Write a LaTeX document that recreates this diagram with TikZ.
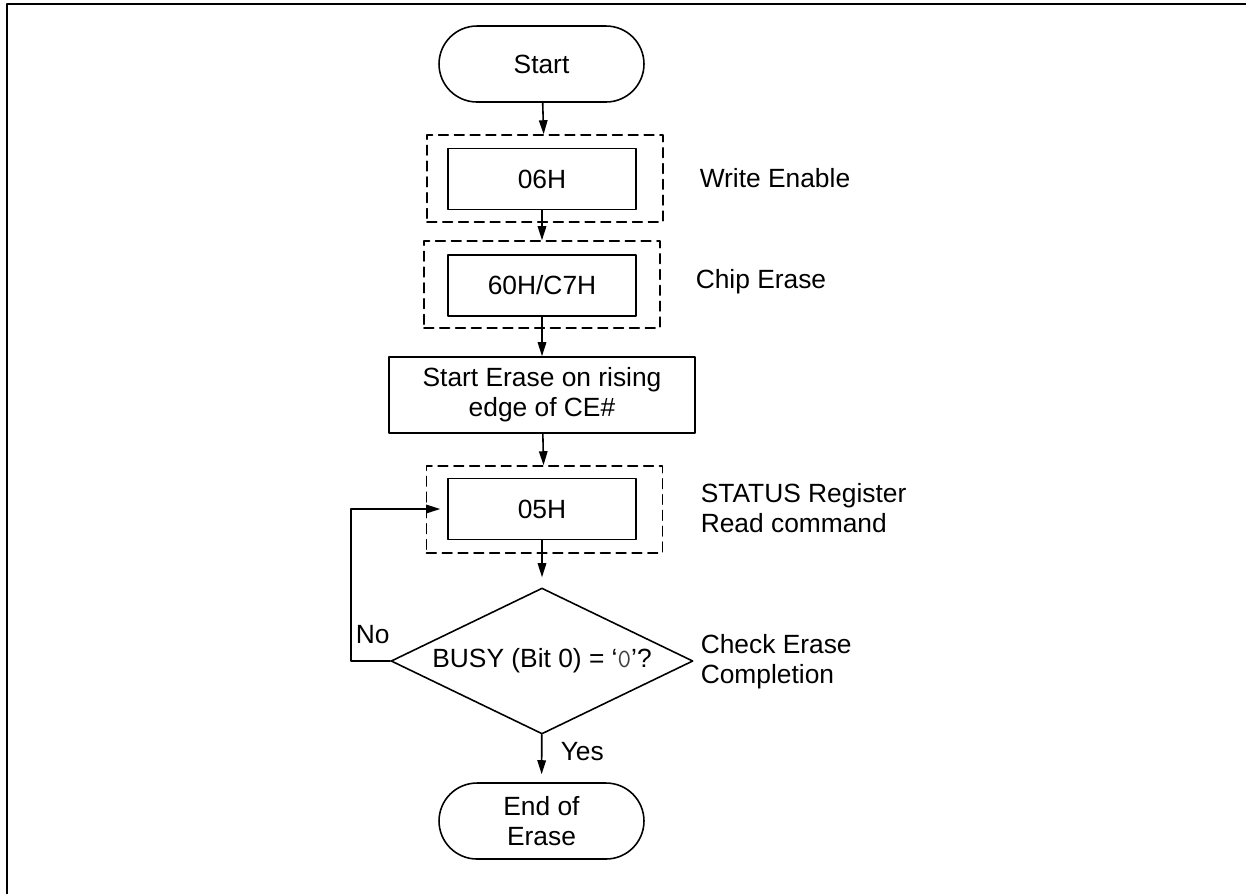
\documentclass[tikz,border=0pt]{standalone}
\usepackage{fontspec}
\setmainfont{Liberation Sans}
\usepackage{tikz}
\usetikzlibrary{arrows.meta}
\usetikzlibrary{shapes.geometric}

\begin{document}
\begin{tikzpicture}[line cap=round,line join=round,>={Triangle[length=0.28cm,width=0.17cm]},x=0.02cm,y=-0.02cm, line width=0.9pt,
                    font=\fontsize{15}{17}\selectfont,
                    term/.style={draw, rounded corners=0.76cm, minimum width=4.1cm, minimum height=1.52cm, align=center},
                    cmd/.style={draw, minimum width=3.76cm, minimum height=1.22cm, align=center},
                    grp/.style={draw, dash pattern=on 5.5pt off 3.5pt, minimum width=4.72cm, minimum height=1.74cm},
                    dec/.style={draw, diamond, aspect=2.07, minimum width=6.04cm, minimum height=2.92cm, inner sep=0pt},
                    note/.style={anchor=west, align=left, inner sep=0pt}]
                    \useasboundingbox (0,0) rectangle (1246,894);
                    \draw [line width=1.2pt, line cap=butt] (7,894) -- (7,4.3) -- (1246,4.3);

                    % dashed command groups
                    \node[grp] (g1) at (545,178.5) {};
                    \node[grp] (g2) at (542,284.5) {};
                    \node[grp] (g3) at (544.5,509.5) {};

                    \node[term] (start) at (541.5,64) {Start};
                    \node[cmd] (wren) at (542,179) {06H};
                    \node[cmd] (chip) at (542,285.5) {60H/C7H};
                    \node[cmd, minimum width=6.12cm, minimum height=1.52cm] (erase) at (542,395) {Start Erase on rising\\edge of CE\#};
                    \node[cmd] (rdsr) at (542,509) {05H};
                    \node[dec] (busy) at (542,661) {BUSY (Bit 0) = ‘{\color{black!75}\ttfamily 0}’?};
                    \node[term] (done) at (541.5,821) {End of\\Erase};

                    \draw [->] (start) -- (g1);
                    \draw [->] (wren) -- (g2);
                    \draw [->] (chip) -- (erase);
                    \draw [->] (erase) -- (g3);
                    \draw [->, shorten >=0.2cm] (rdsr) -- (busy);
                    \draw [->, shorten >=0.16cm] (busy) -- (done);

                    % retry loop
                    \coordinate (bend) at (351,661);
                    \draw [->, shorten >=0.14cm] (busy.west) -- (bend) |- (rdsr.west);

                    \node[note] (no) at (355,635) {No};
                    \node[note] (yes) at (560,752) {Yes};

                    \node[note] (wrlbl) at (699,178) {Write Enable};
                    \node[note] (chlbl) at (695,282) {Chip Erase};
                    \node[note] (srlbl) at (700,508) {STATUS Register\\Read command};
                    \node[note] (cklbl) at (700,662) {Check Erase\\Completion};
                \end{tikzpicture}
\end{document}
